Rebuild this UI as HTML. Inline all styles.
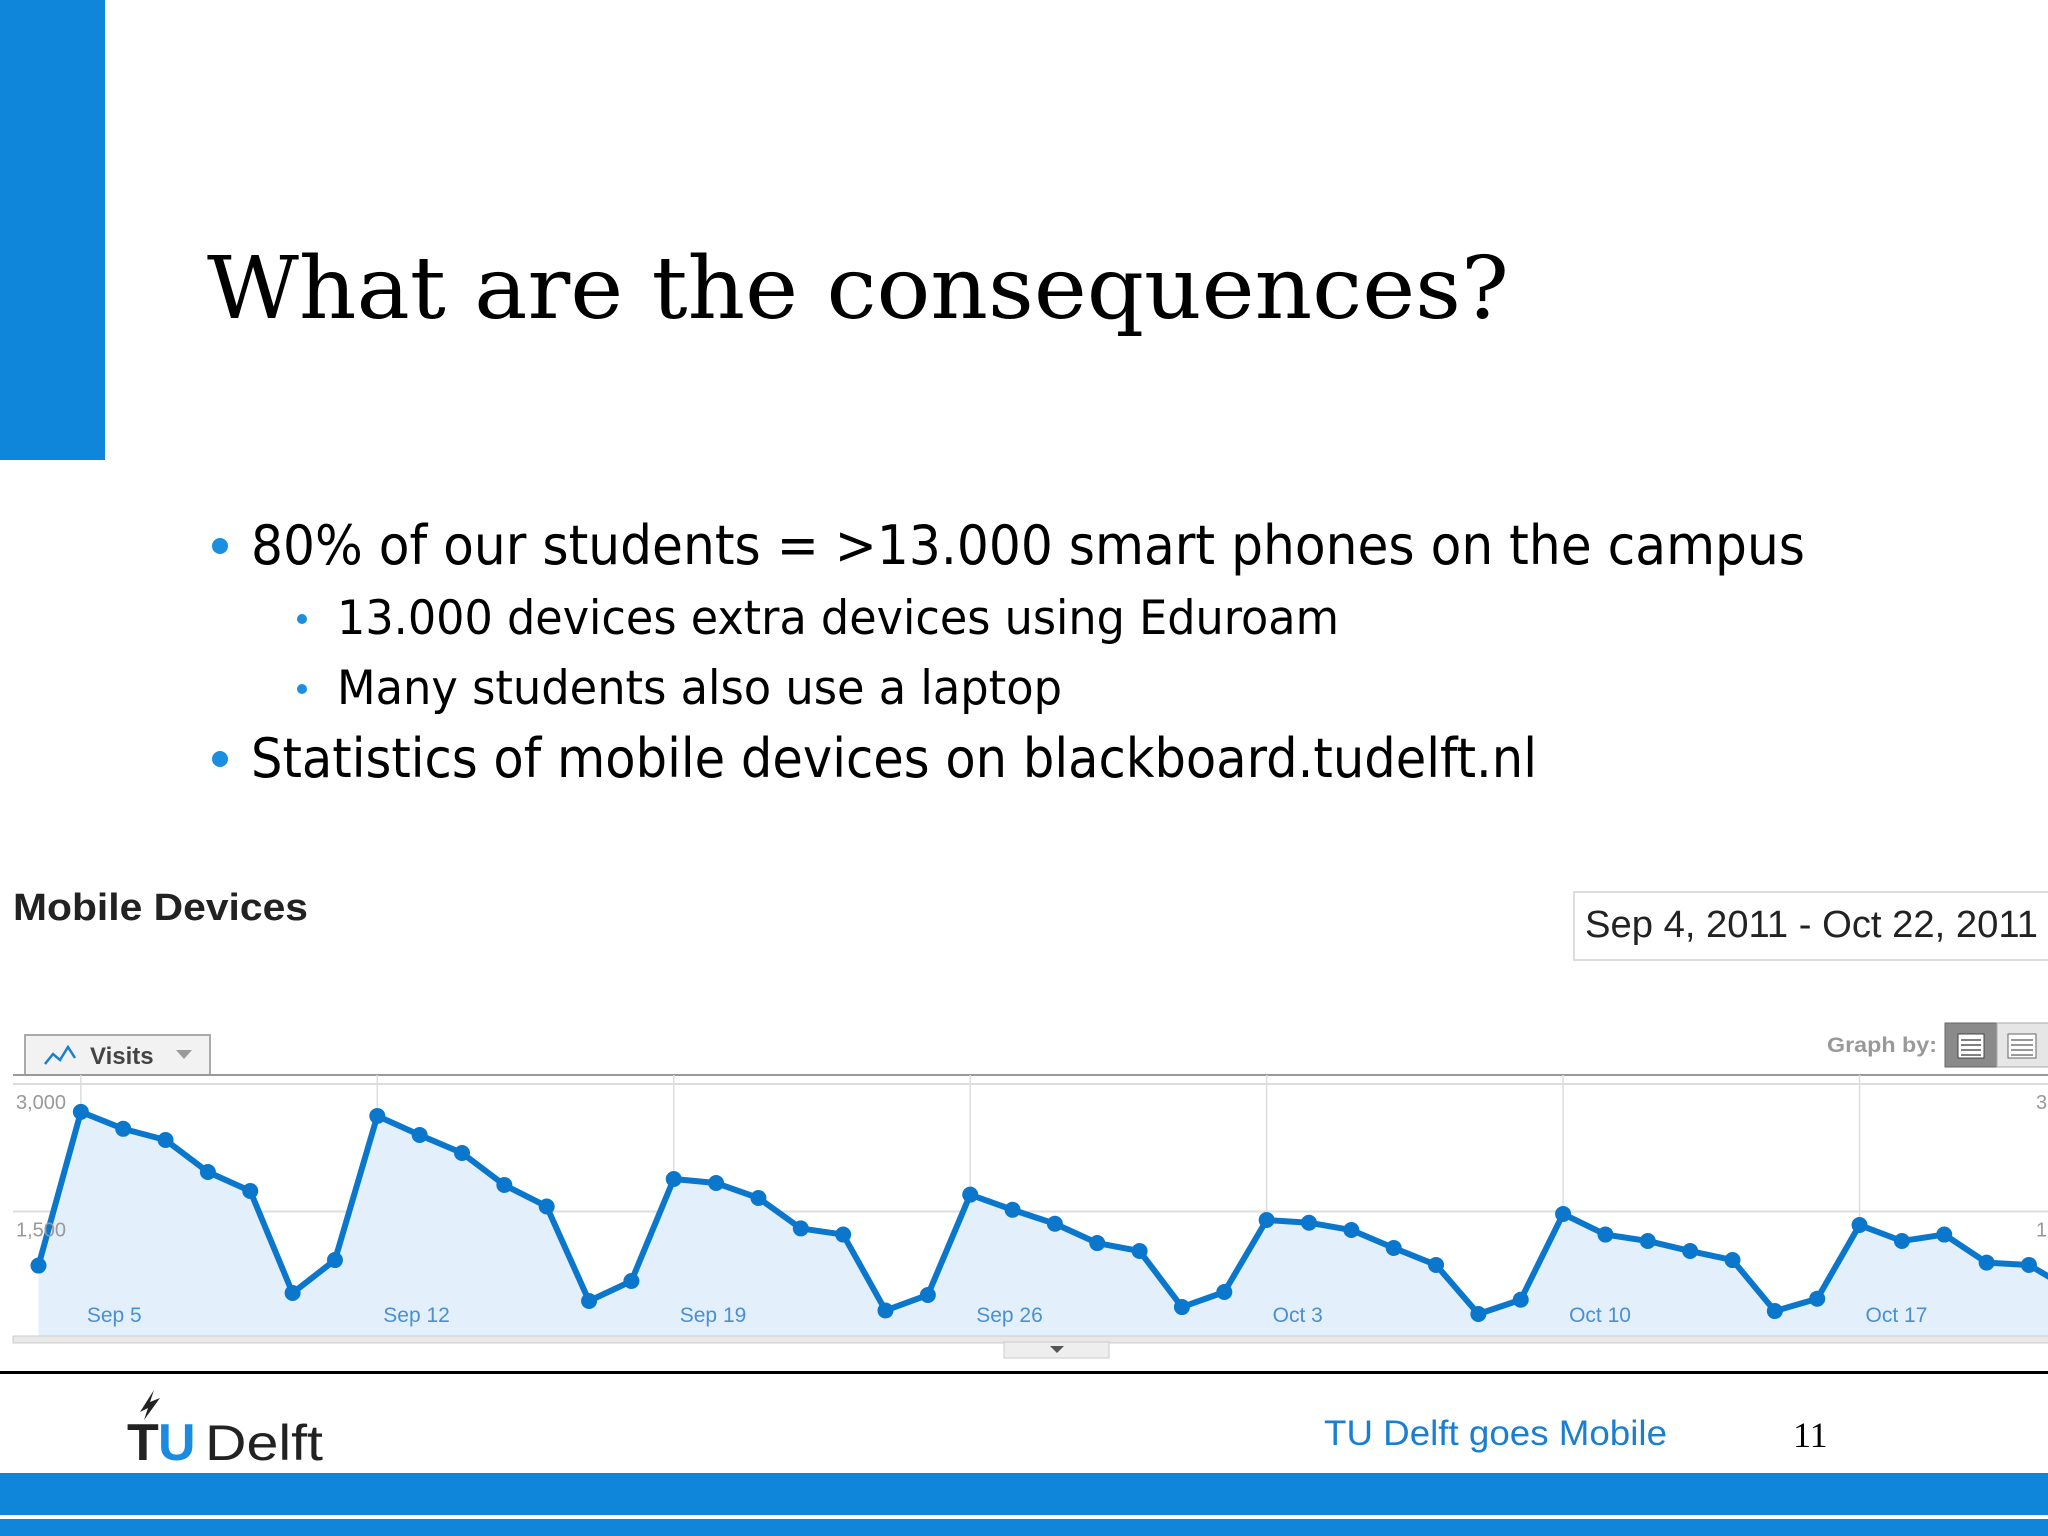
<!DOCTYPE html>
<html><head><meta charset="utf-8"><style>
html,body{margin:0;padding:0;background:#fff}
svg{display:block}
</style></head><body>
<svg width="2048" height="1536" viewBox="0 0 2048 1536" xmlns="http://www.w3.org/2000/svg">
<rect x="0" y="0" width="105" height="460" fill="#0f86d9"/>
<text x="207" y="318" font-family="DejaVu Serif, serif" font-size="86" fill="#000" textLength="1302" lengthAdjust="spacingAndGlyphs">What are the consequences?</text>
<g font-family="DejaVu Sans, sans-serif" fill="#000">
<circle cx="220" cy="546" r="8" fill="#1b8ee0"/>
<text x="251" y="564" font-size="54" textLength="1554" lengthAdjust="spacingAndGlyphs">80% of our students = &gt;13.000 smart phones on the campus</text>
<circle cx="302" cy="619" r="5" fill="#1b8ee0"/>
<text x="337" y="634" font-size="47" textLength="1002" lengthAdjust="spacingAndGlyphs">13.000 devices extra devices using Eduroam</text>
<circle cx="302" cy="689" r="5" fill="#1b8ee0"/>
<text x="337" y="704" font-size="47" textLength="725" lengthAdjust="spacingAndGlyphs">Many students also use a laptop</text>
<circle cx="220" cy="759" r="8" fill="#1b8ee0"/>
<text x="251" y="777" font-size="54" textLength="1286" lengthAdjust="spacingAndGlyphs">Statistics of mobile devices on blackboard.tudelft.nl</text>
</g>
<text x="13" y="920" font-family="Liberation Sans, sans-serif" font-weight="bold" font-size="38" fill="#222" textLength="295" lengthAdjust="spacingAndGlyphs">Mobile Devices</text>
<rect x="1574" y="892" width="480" height="68" fill="#fff" stroke="#ddd" stroke-width="2"/>
<text x="1585" y="937" font-family="Liberation Sans, sans-serif" font-size="38" fill="#222" textLength="453" lengthAdjust="spacingAndGlyphs">Sep 4, 2011 - Oct 22, 2011</text>
<g>
<rect x="25" y="1035" width="185" height="40" fill="#f2f2f2" stroke="#aaa" stroke-width="2"/>
<polyline points="45,1064 53,1054 60,1060 68,1047 75,1058" fill="none" stroke="#1a7fd0" stroke-width="2.5"/>
<text x="90" y="1064" font-family="Liberation Sans, sans-serif" font-weight="bold" font-size="24" fill="#444">Visits</text>
<polygon points="176,1050 192,1050 184,1059" fill="#999"/>
</g>
<text x="1827" y="1052" font-family="Liberation Sans, sans-serif" font-weight="bold" font-size="21" fill="#999" textLength="110" lengthAdjust="spacingAndGlyphs">Graph by:</text>
<rect x="1945" y="1023" width="52" height="44" fill="#8a8a8a" stroke="#666"/>
<rect x="1997" y="1023" width="55" height="44" fill="#e6e6e6" stroke="#aaa"/>
<rect x="1958" y="1034" width="26" height="24" fill="#fff" stroke="#444"/>
<path d="M1961,1040h20M1961,1045h20M1961,1050h20M1961,1055h20" stroke="#555" stroke-width="1.5"/>
<rect x="2008" y="1034" width="28" height="24" fill="#fff" stroke="#666"/>
<path d="M2011,1040h22M2011,1045h22M2011,1050h22M2011,1055h22" stroke="#777" stroke-width="1.5"/>
<g id="chart"></g>
<rect x="1004" y="1342" width="105" height="16" fill="#eee" stroke="#ccc"/>
<polygon points="1050,1346 1064,1346 1057,1353" fill="#555"/>
<rect x="0" y="1371" width="2048" height="3" fill="#000"/>
<g>
<text x="127" y="1460" font-family="Liberation Sans, sans-serif" font-weight="bold" font-size="52" fill="#222">T</text>
<text x="158" y="1460" font-family="Liberation Sans, sans-serif" font-weight="bold" font-size="52" fill="#1a8be0">U</text>
<text x="205" y="1460" font-family="Liberation Sans, sans-serif" font-size="50" fill="#222" textLength="118" lengthAdjust="spacingAndGlyphs">Delft</text>
<path d="M140,1412 l14,-22 l-4,12 l10,-4 l-16,22 l4,-12z" fill="#222"/>
</g>
<text x="1324" y="1445" font-family="Liberation Sans, sans-serif" font-size="35" fill="#1a7fd0" textLength="343" lengthAdjust="spacingAndGlyphs">TU Delft goes Mobile</text>
<text x="1793" y="1447" font-family="Liberation Serif, serif" font-size="36" fill="#000">11</text>
<rect x="0" y="1473" width="2048" height="42" fill="#0f86d9"/>
<rect x="0" y="1519" width="2048" height="17" fill="#0f86d9"/>
</svg>
<script>
const visits = [864,2672,2473,2341,1965,1741,541,929,2624,2400,2188,1812,1559,447,682,1882,1835,1659,1301,1229,335,518,1698,1520,1356,1129,1035,376,553,1400,1368,1282,1071,871,294,462,1471,1229,1153,1035,929,329,474,1341,1153,1229,899,871,576];
const dayLabels = ["Sep 5","Sep 12","Sep 19","Sep 26","Oct 3","Oct 10","Oct 17"];
const labelDays = [1,8,15,22,29,36,43];
const yTicks = [1500,3000];
const yTickLabels = ["1,500","3,000"];
const NS = "http://www.w3.org/2000/svg";
const g = document.getElementById('chart');
const X = d => 38.5 + 42.35 * d;
const Y = v => 1339 - v * 0.085;
function mk(t, a){const e=document.createElementNS(NS,t);for(const k in a)e.setAttribute(k,a[k]);g.appendChild(e);return e;}
let e;
e = mk('line',{x1:13,y1:1075,x2:2048,y2:1075,stroke:'#999','stroke-width':2});


yTicks.forEach((v,i)=>{
  e = mk('line',{x1:13,y1:Y(v),x2:2048,y2:Y(v),stroke:'#ddd','stroke-width':2});
  
  
});
labelDays.forEach(d=>{
  e = mk('line',{x1:X(d),y1:1075,x2:X(d),y2:1339,stroke:'#ddd','stroke-width':1.5});
  
  
});
let pts = visits.map((v,i)=>X(i)+','+Y(v));
const lastX = X(visits.length-1);
e = mk('polygon',{points:X(0)+',1339 '+pts.join(' ')+' '+lastX+',1339',fill:'#e3f0fb'});


e = mk('polyline',{points:pts.join(' '),fill:'none',stroke:'#0a77cc','stroke-width':6,'stroke-linejoin':'round'});


visits.forEach((v,i)=>{
  e = mk('circle',{cx:X(i),cy:Y(v),r:8,fill:'#0a77cc'});
  
  
});
labelDays.forEach((d,i)=>{
  e = mk('text',{x:X(d)+6,y:1322,'font-family':'Liberation Sans, sans-serif','font-size':21,fill:'#4a90d0'});
  e.textContent = dayLabels[i];
  
  
});
yTicks.forEach((v,i)=>{
  e = mk('text',{x:16,y:Y(v)+25,'font-family':'Liberation Sans, sans-serif','font-size':20,fill:'#999'});
  e.textContent = yTickLabels[i];
  
  
  e = mk('text',{x:2036,y:Y(v)+25,'font-family':'Liberation Sans, sans-serif','font-size':20,fill:'#999'});
  e.textContent = yTickLabels[i].charAt(0);
  
  
});
e = mk('rect',{x:13,y:1336,width:2040,height:7,fill:'#e8e8e8',stroke:'#ccc'});


</script>
</body></html>
